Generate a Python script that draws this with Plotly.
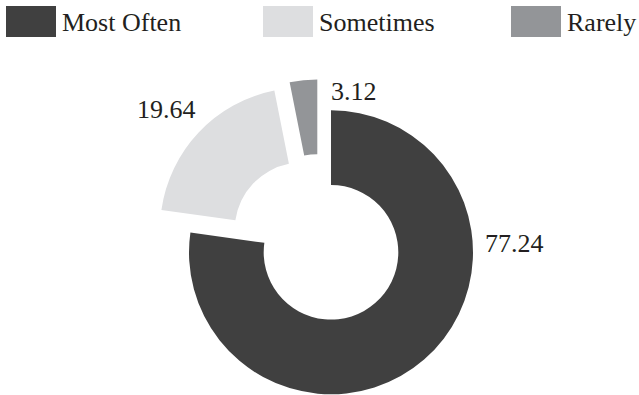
import plotly.graph_objects as go

# Survey response shares (%)
categories = ["Most Often", "Sometimes", "Rarely"]
values = [77.24, 19.64, 3.12]
colors = ["#404040", "#dddee0", "#939598"]

W, H = 639, 395
R = 142            # outer radius in px
HOLE = 0.474

# Each slice is drawn as its own pie trace so it can be offset (exploded)
# independently; pixel centers of each slice's vertex.
slice_centers = [(331.0, 252.3), (302.0, 229.8), (317.3, 221.5)]

# Value label anchor points (px)
label_pos = [(514.5, 244.0), (166.5, 110.0), (353.5, 91.0)]

# Legend layout (px): swatch x-start for each entry
legend_x = [6, 263, 511]
SW_W, SW_H, SW_Y = 50, 31, 6

FONT = "Liberation Serif, Times New Roman, serif"
TXT = "#231f20"

fig = go.Figure()

for i, (cx, cy) in enumerate(slice_centers):
    slice_colors = [c if j == i else "rgba(0,0,0,0)" for j, c in enumerate(colors)]
    fig.add_trace(go.Pie(
        labels=categories,
        values=values,
        sort=False,
        direction="clockwise",
        rotation=0,
        hole=HOLE,
        marker=dict(colors=slice_colors, line=dict(width=0)),
        textinfo="none",
        hoverinfo="skip",
        showlegend=False,
        domain=dict(
            x=[(cx - R) / W, (cx + R) / W],
            y=[(H - cy - R) / H, (H - cy + R) / H],
        ),
    ))

annotations = []
for (lx, ly), v in zip(label_pos, values):
    annotations.append(dict(
        x=lx / W, y=1 - ly / H, xref="paper", yref="paper",
        text=f"{v:.2f}", showarrow=False,
        xanchor="center", yanchor="middle",
        font=dict(family=FONT, size=26, color=TXT),
    ))

shapes = []
for x0, name, c in zip(legend_x, categories, colors):
    shapes.append(dict(
        type="rect", xref="paper", yref="paper",
        x0=x0 / W, x1=(x0 + SW_W) / W,
        y0=1 - (SW_Y + SW_H) / H, y1=1 - SW_Y / H,
        fillcolor=c, line=dict(width=0),
    ))
    annotations.append(dict(
        x=(x0 + SW_W + 4) / W, y=1 - 23 / H, xref="paper", yref="paper",
        text=name, showarrow=False,
        xanchor="left", yanchor="middle",
        font=dict(family=FONT, size=26, color=TXT),
    ))

fig.update_layout(
    width=W, height=H,
    margin=dict(l=0, r=0, t=0, b=0),
    paper_bgcolor="white",
    plot_bgcolor="white",
    annotations=annotations,
    shapes=shapes,
)

fig.write_html("out.html")
